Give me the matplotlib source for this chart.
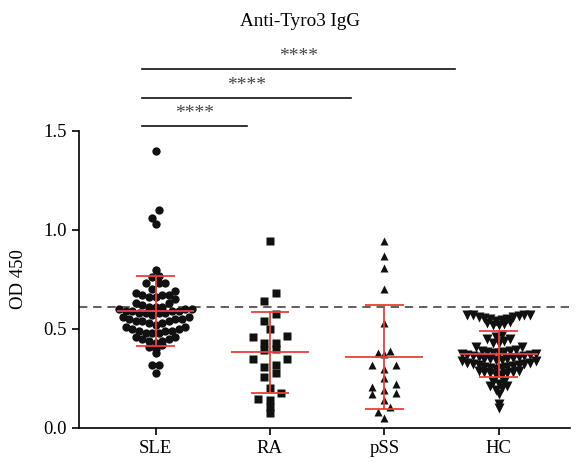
import numpy as np
import matplotlib
matplotlib.use("Agg")
import matplotlib.pyplot as plt

plt.rcParams['font.family'] = ['Liberation Serif', 'DejaVu Serif']

# data (OD 450)
groups = ['SLE', 'RA', 'pSS', 'HC']
sle = [1.40, 1.10, 1.06, 1.03,
       0.80, 0.77, 0.76, 0.73, 0.73, 0.73, 0.70, 0.69, 0.68, 0.67, 0.67, 0.67,
       0.66, 0.66, 0.65, 0.63, 0.63, 0.62, 0.61, 0.61,
       0.60, 0.60, 0.59, 0.59, 0.58, 0.58, 0.58, 0.58, 0.59, 0.59, 0.60, 0.61,
       0.56, 0.55, 0.55, 0.54, 0.54, 0.53, 0.53, 0.54, 0.55, 0.56, 0.57,
       0.51, 0.50, 0.49, 0.49, 0.48, 0.48, 0.48, 0.49, 0.50, 0.51, 0.52,
       0.46, 0.45, 0.44, 0.44, 0.45, 0.46,
       0.43, 0.42, 0.41, 0.40, 0.38, 0.32, 0.32, 0.28]
ra = [0.946, 0.68, 0.643, 0.576, 0.54, 0.50, 0.466, 0.461, 0.43, 0.43,
      0.40, 0.395, 0.35, 0.35, 0.32, 0.306, 0.28, 0.26, 0.20, 0.175,
      0.145, 0.143, 0.105, 0.077]
pss = [0.946, 0.869, 0.81, 0.70, 0.53, 0.39, 0.379, 0.372, 0.317, 0.32,
       0.298, 0.25, 0.224, 0.209, 0.19, 0.173, 0.175, 0.14, 0.106, 0.079, 0.049]
hc = [0.57, 0.57, 0.57, 0.57,
      0.56, 0.555, 0.55, 0.54, 0.53, 0.52, 0.52, 0.525, 0.535, 0.545, 0.55, 0.56, 0.565,
      0.47, 0.45, 0.45, 0.46, 0.43, 0.43, 0.41, 0.41, 0.44,
      0.39, 0.385, 0.38, 0.375, 0.37, 0.365, 0.36, 0.36, 0.365, 0.37, 0.375, 0.38,
      0.385, 0.39, 0.395,
      0.35, 0.345, 0.34, 0.34, 0.345, 0.35, 0.355, 0.35,
      0.33, 0.325, 0.32, 0.315, 0.31, 0.305, 0.30, 0.305, 0.31, 0.32, 0.325, 0.33,
      0.29, 0.285, 0.28, 0.27, 0.27, 0.28, 0.285, 0.29,
      0.23, 0.21, 0.20, 0.22, 0.21, 0.23, 0.19,
      0.17, 0.12, 0.10]
cutoff = 0.61
comparisons = [('SLE', 'RA', '****'), ('SLE', 'pSS', '****'), ('SLE', 'HC', '****')]

markers = ['o', 's', '^', 'v']
msizes = [6.0, 5.4, 6.3, 6.5]
row_h = [0.045, 0.055, 0.05, 0.04]   # y-bin height per column
row_w = [6.6, 11.5, 12.0, 5.7]       # px between points within a bin


def row_layout(vals, h, w):
    # GraphPad-like scatter: bin by value, spread each bin sideways,
    # lowest value in the middle so rows curve upward at the ends
    vals = np.asarray(vals)
    keys = np.round(vals / h).astype(int)
    xs = np.zeros(len(vals))
    for k in np.unique(keys):
        idx = np.where(keys == k)[0]
        idx = idx[np.argsort(vals[idx], kind='stable')]
        n = len(idx)
        slots = np.arange(n) - (n - 1) / 2
        order = np.argsort(np.abs(slots), kind='stable')
        for j, s in zip(idx, order):
            xs[j] = slots[s] * w
    return xs


fig = plt.figure(figsize=(5.76, 4.62), dpi=100)
ax = fig.add_axes([0.137, 0.0736, 0.852, 0.643])
ax.set_xlim(-0.67, 3.62)
ax.set_ylim(0, 1.5)

kx = 0.852 * 576 / (3.62 + 0.67)   # px per x unit

red = '#e8413a'
data = [sle, ra, pss, hc]
for i, vals in enumerate(data):
    off = row_layout(vals, row_h[i], row_w[i]) / kx
    ax.plot(i + off, vals, ls='none', marker=markers[i], ms=msizes[i],
            color='#111111', mec='none', zorder=3)
    mu, sd = np.mean(vals), np.std(vals, ddof=1)
    ax.hlines(mu, i - 0.34, i + 0.34, color=red, lw=1.3, zorder=4)
    ax.hlines([mu - sd, mu + sd], i - 0.17, i + 0.17, color=red, lw=1.3, zorder=4)
    ax.vlines(i, mu - sd, mu + sd, color=red, lw=1.3, zorder=4)

ax.axhline(cutoff, color='#444444', lw=1.2, ls=(0, (5, 3.5)), zorder=2)

# significance brackets above the plot
bar_y = [1.525, 1.667, 1.813]
for (g1, g2, txt), by in zip(comparisons, bar_y):
    j = groups.index(g2)
    x1 = groups.index(g1) - 0.12
    x2 = j - 0.2 - 0.09 * (j - 1)
    ax.plot([x1, x2], [by, by], color='#111111', lw=1.2, clip_on=False)
    ax.text((x1 + x2) / 2, by + 0.02, txt, ha='center', va='bottom',
            fontsize=14, color='#444444', clip_on=False)

fig.text(300 / 576, 1 - 21 / 462, 'Anti-Tyro3 IgG', ha='center', va='center',
         fontsize=13.8)

for s in ['top', 'right']:
    ax.spines[s].set_visible(False)
for s in ['left', 'bottom']:
    ax.spines[s].set_linewidth(1.2)
ax.set_xticks(range(len(groups)))
ax.set_xticklabels(groups, fontsize=13.5)
ax.set_yticks([0.0, 0.5, 1.0, 1.5])
ax.set_yticklabels(['0.0', '0.5', '1.0', '1.5'], fontsize=13.5)
ax.tick_params(axis='both', direction='out', length=5, width=1.2)
ax.set_ylabel('OD 450', fontsize=13.5, labelpad=12)

fig.savefig('out.png', dpi=100)
